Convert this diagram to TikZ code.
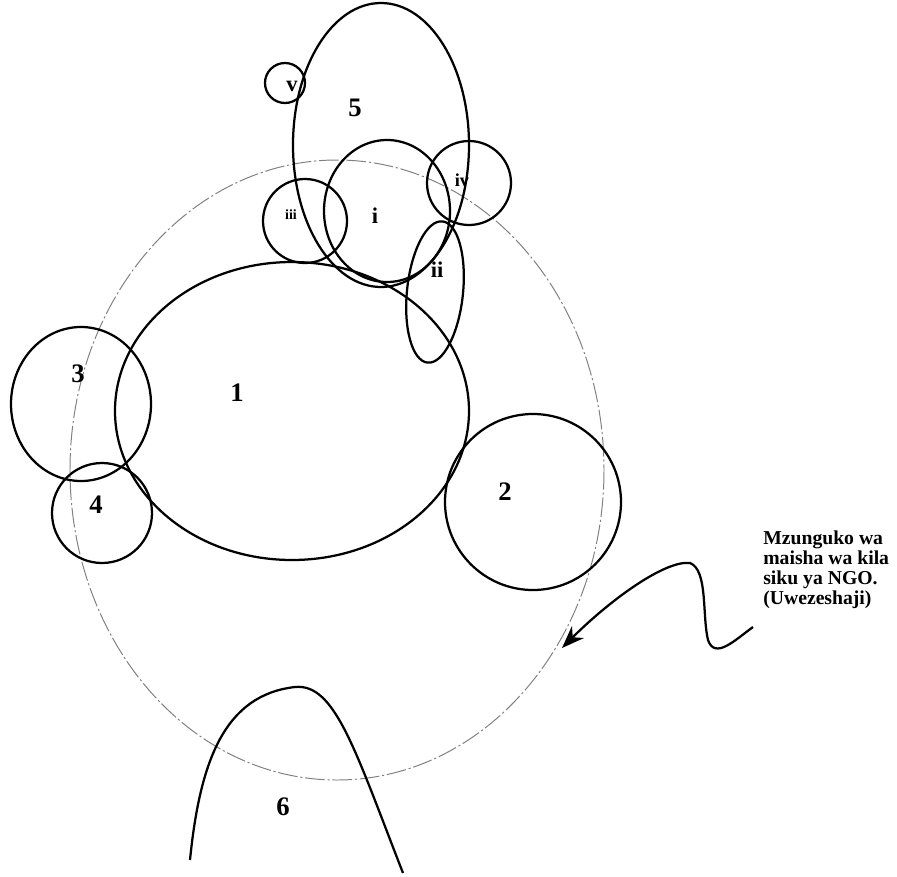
\documentclass[tikz,border=0pt]{standalone}
\usepackage{fontspec}
\setmainfont{Liberation Serif}
\usetikzlibrary{arrows.meta, positioning}

\begin{document}
\begin{tikzpicture}[x=0.025cm, y=-0.025cm,
    ring/.style={line width=1.6pt},
    cycle/.style={gray, line width=0.7pt, dash pattern=on 14pt off 2pt on 1.5pt off 2pt},
    num/.style={font=\fontsize{19}{22}\selectfont\bfseries},
    rnum/.style={font=\fontsize{16}{18}\selectfont\bfseries},
    note/.style={font=\fontsize{14}{14.2}\selectfont\bfseries, align=left, anchor=north west, inner sep=0pt}]
    \useasboundingbox (0,0) rectangle (897,877);

    % Daily life cycle of the NGO
    \draw[cycle] (337,470) ellipse [x radius=267, y radius=310];

    % Main circles
    \draw[ring] (292,411) ellipse [x radius=177, y radius=149];
    \node[num] (n1) at (237,393) {1};
    \draw[ring] (533,502) circle [radius=88];
    \node[num] (n2) at (505,492) {2};
    \draw[ring] (81,404) ellipse [x radius=70, y radius=77];
    \node[num] (n3) at (78,374) {3};
    \draw[ring] (102,513) circle [radius=50];
    \node[num] (n4) at (96,505) {4};
    \draw[ring] (381,145) ellipse [x radius=88, y radius=142];
    \node[num] (n5) at (355,108) {5};

    % Small circles
    \draw[ring] (285,83) circle [radius=20];
    \node[rnum] (nv) at (292,86) {v};
    \draw[ring] (387,211) ellipse [x radius=63, y radius=71];
    \node[rnum] (ni) at (375,216) {i};
    \draw[ring] (305,221) circle [radius=42];
    \node[rnum, font=\fontsize{10}{12}\selectfont\bfseries] (niii) at (291,215) {iii};
    \draw[ring] (469,183) circle [radius=42];
    \node[rnum, font=\fontsize{13}{15}\selectfont\bfseries] (niv) at (462,180) {iv};
    \draw[ring, rotate around={-6:(435,292)}] (435,292) ellipse [x radius=28, y radius=71];
    \node[rnum] (nii) at (437,270) {ii};

    % Hill
    \draw[ring] (190,860) .. controls (200,760) and (225,695) .. (295,687)
        .. controls (335,683) and (355,750) .. (403,873);
    \node[num] (n6) at (283,807) {6};

    % Note and arrow
    \node[note] (txt) at (763,531) {Mzunguko wa\\maisha wa kila\\siku ya NGO.\\(Uwezeshaji)};
    \coordinate (tail) at (753,627);
    \coordinate (bend) at (690,563);
    \coordinate (tip) at (562,648);
    \draw[ring, -{Stealth[length=16pt, width=12pt]}] (tail) .. controls (735,640) and (715,660) .. (708,640)
        .. controls (702,615) and (708,570) .. (bend)
        .. controls (665,560) and (610,600) .. (tip);
\end{tikzpicture}
\end{document}
